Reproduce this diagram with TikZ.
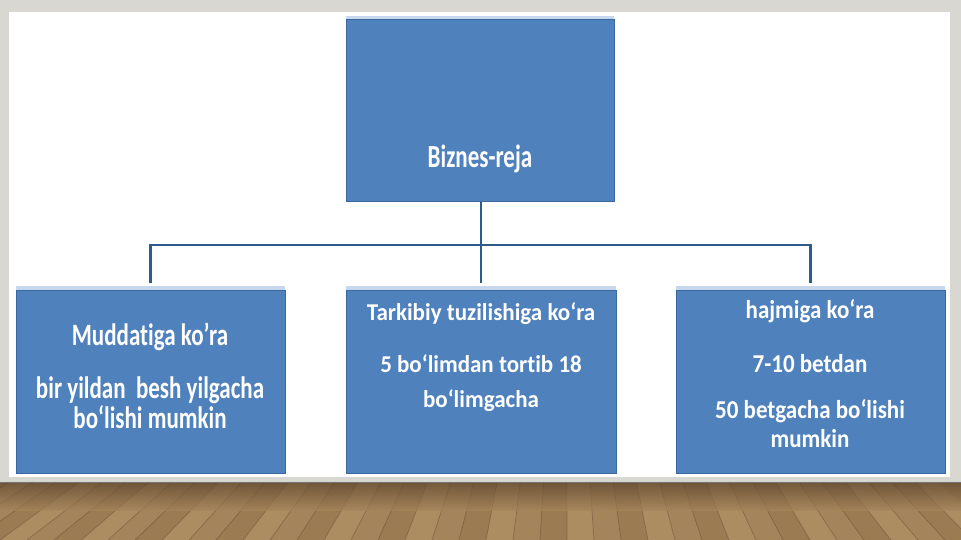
\documentclass[tikz,border=0pt]{standalone}
\usepackage{fontspec}
\setmainfont{Carlito}[Ligatures={TeX,NoCommon}]
\definecolor{boxblue}{HTML}{4F81BD}
\definecolor{boxedge}{HTML}{3A679E}
\definecolor{striplight}{HTML}{C6D7EE}
\definecolor{linkblue}{HTML}{2E5A8E}
\definecolor{framegrey}{HTML}{D8D7D2}
\definecolor{floorA}{HTML}{A4845A}
\definecolor{floorB}{HTML}{9B7B52}
\definecolor{floorC}{HTML}{AC8C61}
\definecolor{floordark}{HTML}{5A432C}
\definecolor{plankline}{HTML}{5E4530}
\begin{document}
\begin{tikzpicture}[x=1pt,y=-1pt,
  box/.style={draw=boxedge, line width=1pt, fill=boxblue, inner sep=0pt, outer sep=0pt, anchor=north west},
  strip/.style={fill=striplight, draw=none},
  lbl/.style={text=white, font=\bfseries\fontsize{23}{27}\selectfont, inner sep=0pt, anchor=base, transform shape},
  conn/.style={draw=linkblue, line width=2.6pt}]
\useasboundingbox (0,0) rectangle (961,540);
% frame and panel
\fill[framegrey] (0,0) rectangle (961,540);
\fill[white] (9,12) rectangle (950,477);
% floor planks
\fill[floorA] (0,482) rectangle (961,540);
\foreach \i [count=\k] in {-3,...,36}{
  \pgfmathsetmacro{\bx}{\i*27}
  \pgfmathsetmacro{\bxx}{\i*27+27}
  \pgfmathsetmacro{\tx}{480+(\bx-480)*0.86+12}
  \pgfmathsetmacro{\txx}{480+(\bxx-480)*0.86+12}
  \pgfmathtruncatemacro{\m}{mod(\k*7,3)}
  \ifnum\m=0 \fill[floorB] (\bx,540) -- (\tx,482) -- (\txx,482) -- (\bxx,540) -- cycle;\fi
  \ifnum\m=1 \fill[floorC] (\bx,540) -- (\tx,482) -- (\txx,482) -- (\bxx,540) -- cycle;\fi
  \draw[plankline, line width=0.7pt, opacity=0.45] (\bx,540) -- (\tx,482);
}
\shade[top color=floordark, bottom color=floorA, opacity=0.7] (0,482) rectangle (961,510);
\draw[black!55, line width=1pt] (0,482) -- (961,482);
% boxes
\fill[strip] (346,16) rectangle (614,20);
\node[box, minimum width=268, minimum height=182] (top) at (346,20) {};
\fill[strip] (16,286) rectangle (285,290);
\node[box, minimum width=269, minimum height=183] (left) at (16,290) {};
\fill[strip] (346,286) rectangle (616,290);
\node[box, minimum width=270, minimum height=183] (mid) at (346,290) {};
\fill[strip] (676,286) rectangle (945,290);
\node[box, minimum width=269, minimum height=183] (right) at (676,290) {};
% connectors
\coordinate (bus) at (481,245);
\coordinate (lend) at (150.5,283);
\coordinate (rend) at (810.5,283);
\coordinate (mend) at (481,283);
\draw[conn] (lend) |- (bus) -| (rend);
\draw[conn] (top.south -| bus) -- (mend);
% texts
\node[lbl, yscale=1.4] (t0) at (480,168) {Biznes-reja};
\node[lbl, yscale=1.35] (l1) at (150,345) {Muddatiga ko’ra};
\node[lbl, yscale=1.35] (l2) at (150,398) {bir yildan\ \ besh yilgacha};
\node[lbl, yscale=1.35] (l3) at (150,428) {bo`lishi mumkin};
\node[lbl, yscale=1.05] (m1) at (481,320) {Tarkibiy tuzilishiga ko`ra};
\node[lbl, yscale=1.05] (m2) at (481,372) {5 bo`limdan tortib 18};
\node[lbl, yscale=1.05] (m3) at (481,407) {bo`limgacha};
\node[lbl, yscale=1.12] (r1) at (810,318) {hajmiga ko`ra};
\node[lbl, yscale=1.12] (r2) at (810,372) {7-10 betdan};
\node[lbl, yscale=1.12] (r3) at (810,418) {50 betgacha bo`lishi};
\node[lbl, yscale=1.12] (r4) at (810,447) {mumkin};
\end{tikzpicture}
\end{document}
